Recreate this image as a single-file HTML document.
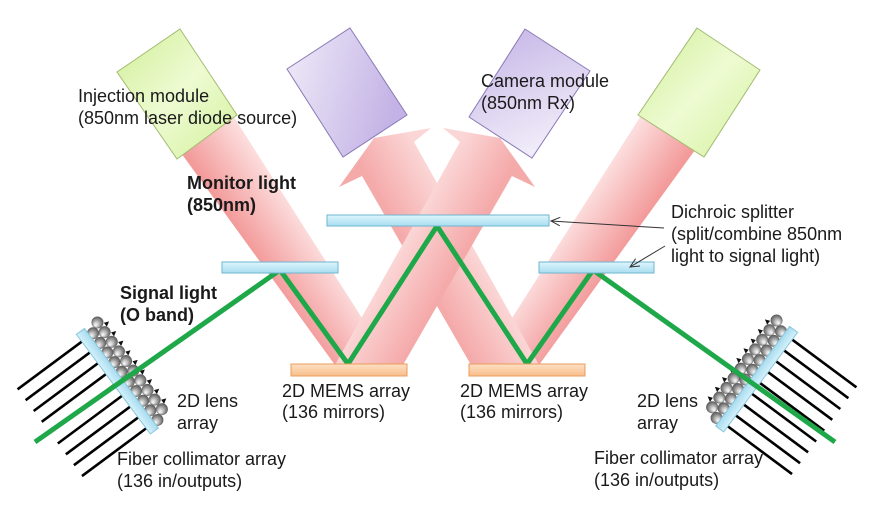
<!DOCTYPE html>
<html>
<head>
<meta charset="utf-8">
<style>
html,body{margin:0;padding:0;background:#fff;}
svg{display:block;}
text{font-family:"Liberation Sans",Arial,sans-serif;font-size:18px;fill:#1a1a1a;}
.b{font-weight:bold;}
</style>
</head>
<body>
<svg width="877" height="509" viewBox="0 0 877 509" xmlns="http://www.w3.org/2000/svg">
<defs>
  <linearGradient id="gInL" gradientUnits="userSpaceOnUse" x1="252" y1="250" x2="299" y2="218">
    <stop offset="0" stop-color="#f39b9b"/><stop offset="1" stop-color="#fcdcdc"/>
  </linearGradient>
  <linearGradient id="gInR" gradientUnits="userSpaceOnUse" x1="622" y1="250" x2="575" y2="218">
    <stop offset="0" stop-color="#f39b9b"/><stop offset="1" stop-color="#fcdcdc"/>
  </linearGradient>
  <linearGradient id="gArR" gradientUnits="userSpaceOnUse" x1="399" y1="250" x2="449" y2="278">
    <stop offset="0" stop-color="#fbd6d6"/><stop offset="1" stop-color="#f5aaaa"/>
  </linearGradient>
  <linearGradient id="gArL" gradientUnits="userSpaceOnUse" x1="475" y1="250" x2="425" y2="278">
    <stop offset="0" stop-color="#fbd6d6"/><stop offset="1" stop-color="#f5aaaa"/>
  </linearGradient>
  <linearGradient id="gGreen" x1="0" y1="0" x2="1" y2="1">
    <stop offset="0" stop-color="#d0ee98"/><stop offset="0.5" stop-color="#eefbd2"/><stop offset="1" stop-color="#d3f09c"/>
  </linearGradient>
  <linearGradient id="gPurL" x1="0" y1="0" x2="1" y2="0.3">
    <stop offset="0" stop-color="#f0ecf9"/><stop offset="1" stop-color="#c3b2e5"/>
  </linearGradient>
  <linearGradient id="gPurR" x1="0" y1="0" x2="0.4" y2="1">
    <stop offset="0" stop-color="#c3b2e5"/><stop offset="1" stop-color="#f0ecf9"/>
  </linearGradient>
  <linearGradient id="gDich" x1="0" y1="0" x2="0" y2="1">
    <stop offset="0" stop-color="#def5fc"/><stop offset="1" stop-color="#a9def0"/>
  </linearGradient>
  <linearGradient id="gMems" x1="0" y1="0" x2="0" y2="1">
    <stop offset="0" stop-color="#fde0c4"/><stop offset="1" stop-color="#f8bd8a"/>
  </linearGradient>
  <linearGradient id="gPlate" x1="0" y1="0" x2="1" y2="0">
    <stop offset="0" stop-color="#d6f2fb"/><stop offset="1" stop-color="#a6dbee"/>
  </linearGradient>
  <radialGradient id="gLens" cx="0.5" cy="0.5" r="0.55" fx="0.2" fy="0.6">
    <stop offset="0" stop-color="#ffffff"/><stop offset="0.3" stop-color="#d4d4d4"/>
    <stop offset="0.7" stop-color="#858585"/><stop offset="1" stop-color="#4a4a4a"/>
  </radialGradient>
  <g id="asm">
    <!-- lenses -->
    <g fill="url(#gLens)">
      <circle cx="19" cy="-60" r="6"/><circle cx="19" cy="-48" r="6"/><circle cx="19" cy="-36" r="6"/>
      <circle cx="19" cy="-24" r="6"/><circle cx="19" cy="-12" r="6"/><circle cx="19" cy="0" r="6"/>
      <circle cx="19" cy="12" r="6"/><circle cx="19" cy="24" r="6"/><circle cx="19" cy="36" r="6"/>
      <circle cx="19" cy="48" r="6"/>
      <circle cx="9" cy="-54" r="6"/><circle cx="9" cy="-42" r="6"/><circle cx="9" cy="-30" r="6"/>
      <circle cx="9" cy="-18" r="6"/><circle cx="9" cy="-6" r="6"/><circle cx="9" cy="6" r="6"/>
      <circle cx="9" cy="18" r="6"/><circle cx="9" cy="30" r="6"/><circle cx="9" cy="42" r="6"/>
      <circle cx="9" cy="54" r="6"/>
    </g>
    <g fill="#111">
      <polygon points="24,-56 29,-54 24,-51"/><polygon points="24,-44 29,-42 24,-39"/>
      <polygon points="24,-32 29,-30 24,-27"/><polygon points="24,-20 29,-18 24,-15"/>
      <polygon points="24,-8 29,-6 24,-3"/><polygon points="24,4 29,6 24,9"/>
      <polygon points="24,16 29,18 24,21"/><polygon points="24,28 29,30 24,33"/>
      <polygon points="24,40 29,42 24,45"/>
    </g>
    <!-- fibers -->
    <g stroke="#000" stroke-width="2.6">
      <line x1="-3" y1="-54" x2="-85" y2="-54"/><line x1="-3" y1="-40.5" x2="-85" y2="-40.5"/>
      <line x1="-3" y1="-27" x2="-85" y2="-27"/><line x1="-3" y1="-13.5" x2="-85" y2="-13.5"/>
      <line x1="-3" y1="0" x2="-85" y2="0"/><line x1="-3" y1="13.5" x2="-85" y2="13.5"/>
      <line x1="-3" y1="27" x2="-85" y2="27"/><line x1="-3" y1="40.5" x2="-85" y2="40.5"/>
      <line x1="-3" y1="54" x2="-85" y2="54"/>
    </g>
    <!-- plate -->
    <rect x="-5" y="-63" width="10" height="124" fill="url(#gPlate)" stroke="#86c6dc" stroke-width="1"/>
  </g>
</defs>

<rect width="877" height="509" fill="#fff"/>

<!-- injection beams -->
<polygon points="168,135 223,100 392,365 335,365" fill="url(#gInL)"/>
<polygon points="706,135 651,100 482,365 539,365" fill="url(#gInR)"/>

<!-- left-pointing arrow (from right MEMS) -->
<polygon points="539,365 414,142 431,128 374,138 339,187 362,176 471,365" fill="url(#gArL)"/>
<!-- right-pointing arrow (from left MEMS) -->
<polygon points="335,365 460,142 443,128 500,138 535,187 512,176 403,365" fill="url(#gArR)"/>

<!-- module boxes -->
<polygon points="180,29 237,115 177,159 117,72" fill="url(#gGreen)" stroke="#a3bc70" stroke-width="1"/>
<polygon points="350,28 407,115 343,157 287,69" fill="url(#gPurL)" stroke="#8a7ab6" stroke-width="1"/>
<polygon points="525,29 590,71 532,158 469,117" fill="url(#gPurR)" stroke="#8a7ab6" stroke-width="1"/>
<polygon points="697,28 760,70 704,157 638,115" fill="url(#gGreen)" stroke="#a3bc70" stroke-width="1"/>

<!-- lens / fiber assemblies -->
<use href="#asm" transform="translate(118,382) rotate(-36.6)"/>
<g transform="translate(874,0) scale(-1,1)">
  <use href="#asm" transform="translate(118,380) rotate(-36.6)"/>
</g>

<!-- signal light -->
<polyline points="35,442 280,270 348,364 437,226 527,364 593,270 835,442" fill="none" stroke="#1ea84a" stroke-width="5" stroke-linejoin="miter" stroke-miterlimit="10"/>

<!-- dichroic splitters -->
<rect x="222" y="262" width="116" height="11" fill="url(#gDich)" stroke="#6fb5cf" stroke-width="1"/>
<rect x="539" y="262" width="115" height="11" fill="url(#gDich)" stroke="#6fb5cf" stroke-width="1"/>
<rect x="327" y="215" width="222" height="11" fill="url(#gDich)" stroke="#6fb5cf" stroke-width="1"/>

<!-- MEMS -->
<rect x="291" y="364" width="116" height="12" fill="url(#gMems)" stroke="#e99c5c" stroke-width="1"/>
<rect x="469" y="364" width="116" height="12" fill="url(#gMems)" stroke="#e99c5c" stroke-width="1"/>

<!-- callout arrows -->
<g stroke="#333" stroke-width="1" fill="none">
  <line x1="664" y1="228" x2="551" y2="221"/>
  <polyline points="560.3,217.3 551,221 559.8,225.8"/>
  <line x1="665" y1="246" x2="630" y2="267"/>
  <polyline points="635.6,258.7 630,267 640,266"/>
</g>

<!-- labels -->
<text x="78" y="102">Injection module</text>
<text x="78" y="124">(850nm laser diode source)</text>
<text class="b" x="187" y="189">Monitor light</text>
<text class="b" x="187" y="211">(850nm)</text>
<text x="481" y="87">Camera module</text>
<text x="481" y="109">(850nm Rx)</text>
<text x="671" y="218">Dichroic splitter</text>
<text x="671" y="240">(split/combine 850nm</text>
<text x="671" y="262">light to signal light)</text>
<text class="b" x="120" y="299">Signal light</text>
<text class="b" x="120" y="321">(O band)</text>
<text x="177" y="407">2D lens</text>
<text x="177" y="429">array</text>
<text x="117" y="465">Fiber collimator array</text>
<text x="117" y="487">(136 in/outputs)</text>
<text x="282" y="397">2D MEMS array</text>
<text x="282" y="418">(136 mirrors)</text>
<text x="460" y="397">2D MEMS array</text>
<text x="460" y="418">(136 mirrors)</text>
<text x="637" y="407">2D lens</text>
<text x="637" y="429">array</text>
<text x="594" y="464">Fiber collimator array</text>
<text x="594" y="486">(136 in/outputs)</text>
</svg>
</body>
</html>
